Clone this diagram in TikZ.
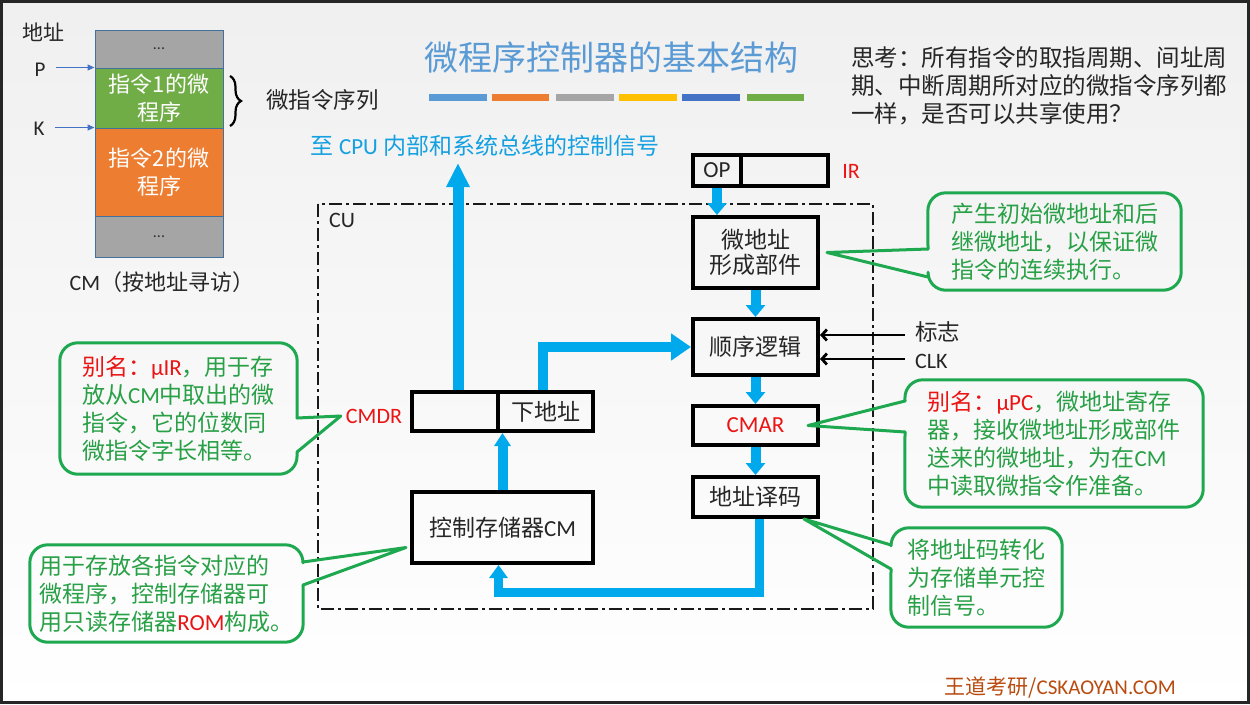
\documentclass[tikz,border=0pt]{standalone}
\usepackage{fontspec}
\setmainfont{Noto Sans CJK SC}
\newfontfamily\lat{Carlito}
\usetikzlibrary{arrows.meta,decorations.pathreplacing,calc}
\definecolor{bluearr}{RGB}{0,168,236}
\definecolor{titleblue}{RGB}{91,155,213}
\definecolor{sigblue}{RGB}{20,160,225}
\definecolor{cgreen}{RGB}{30,168,80}
\definecolor{tgreen}{RGB}{40,160,70}
\definecolor{myred}{RGB}{235,20,20}
\definecolor{cmgray}{RGB}{165,165,165}
\definecolor{cmgreen}{RGB}{112,173,71}
\definecolor{cmorange}{RGB}{237,125,49}
\definecolor{cmborder}{RGB}{65,113,156}
\definecolor{ptrblue}{RGB}{68,114,196}
\definecolor{barA}{RGB}{91,155,213}
\definecolor{barB}{RGB}{237,125,49}
\definecolor{barC}{RGB}{165,165,165}
\definecolor{barD}{RGB}{255,192,0}
\definecolor{barE}{RGB}{68,114,196}
\definecolor{barF}{RGB}{112,173,71}
\definecolor{brand}{RGB}{185,75,15}
\newcommand\fs[2]{\fontsize{#1}{#2}\selectfont}
\begin{document}
\begin{tikzpicture}[x=1pt,y=-1pt,
 box/.style={draw=black,line width=4pt,inner sep=0pt,text=black!85,align=center,font=\fs{23}{25}},
 flow/.style={draw=bluearr,line width=10pt,-{Triangle[length=12pt,width=19pt]}},
 bigflow/.style={draw=bluearr,line width=11pt,-{Triangle[length=24pt,width=22pt]}},
 sideflow/.style={draw=bluearr,line width=10pt,-{Triangle[length=20pt,width=26pt]}},
 cline/.style={draw=cgreen,line width=3pt,line join=round,line cap=round},
 ctext/.style={inner sep=0pt,text=tgreen,align=left,font=\fs{23}{28}},
 cmcell/.style={draw=cmborder,line width=1pt,minimum width=128pt,inner sep=0pt,text=white,align=center,font=\fs{22}{28}},
 sig/.style={draw=black,line width=2.8pt,-{Straight Barb[length=5pt,width=11pt]}},
 ptr/.style={draw=ptrblue,line width=1.2pt,-{Triangle[length=7pt,width=6pt]}},
 lbl/.style={inner sep=0pt,text=black!85},
]
\useasboundingbox (0,0) rectangle (1250,704);
\shade[top color=black!6,bottom color=white] (0,0) rectangle (1250,704);
\draw[line width=3pt,black!85] (1.5,1.5) rectangle (1248.5,702.5);

% ---------- CM memory sketch (top left) ----------
\node[cmcell,fill=cmgray,minimum height=38pt,text=black!80,font=\lat\fs{16}{16}] (c0) at (159,49) {...};
\node[cmcell,fill=cmgreen,minimum height=60pt] (c1) at (159,98) {指令1的微\\程序};
\node[cmcell,fill=cmorange,minimum height=88pt] (c2) at (159,172) {指令2的微\\程序};
\node[cmcell,fill=cmgray,minimum height=41pt,text=black!80,font=\lat\fs{16}{16}] (c3) at (159,236.5) {...};
\node[lbl,font=\fs{21}{21}] (addr) at (44,32) {地址};
\node[lbl,font=\lat\fs{21}{21}] (P) at (40,70) {P};
\node[lbl,font=\lat\fs{21}{21}] (K) at (39,129) {K};
\draw[ptr] ([xshift=10pt]P.east |- c1.north) -- (c1.north west);
\draw[ptr] ([xshift=10pt]K.east |- c2.north) -- (c2.north west);
\draw[line width=2.2pt,decorate,decoration={brace,amplitude=11pt}] (230,76) -- (230,126);
\node[lbl,font=\fs{22.5}{22.5},anchor=west] (seqlab) at (266,100) {微指令序列};
\node[lbl,font=\fs{22}{22}] (cmlab) at (162,282) {{\lat CM}（按地址寻访）};

% ---------- title ----------
\node[inner sep=0pt,text=titleblue,font=\fs{34}{34}] (title) at (611,58) {微程序控制器的基本结构};
\fill[barA] (429,94) rectangle (487,101);
\fill[barB] (492,94) rectangle (549,101);
\fill[barC] (556,94) rectangle (614,101);
\fill[barD] (619,94) rectangle (677,101);
\fill[barE] (682,94) rectangle (740,101);
\fill[barF] (747,94) rectangle (804,101);

\node[lbl,anchor=west,align=left,font=\fs{23.5}{28}] (think) at (851,86)
 {思考：所有指令的取指周期、间址周\\期、中断周期所对应的微指令序列都\\一样，是否可以共享使用？};

\node[inner sep=0pt,text=sigblue,font=\fs{23}{23}] (sigtext) at (485,146) {至 {\lat CPU} 内部和系统总线的控制信号};

% ---------- CU frame ----------
\draw[line width=2pt,black!90,dash pattern=on 13pt off 4pt on 3pt off 4pt] (318,204) rectangle (873,609);
\node[lbl,font=\lat\fs{22}{22}] (cu) at (342,220) {CU};

% ---------- right column ----------
\node[box,minimum width=48pt,minimum height=31pt,font=\lat\fs{23}{23}] (irop) at (717,170.5) {OP};
\node[box,minimum width=87pt,minimum height=31pt] (irrest) at (784.5,170.5) {};
\node[inner sep=0pt,text=myred,font=\lat\fs{22}{22}] (irlab) at (851,171) {IR};
\node[box,minimum width=125pt,minimum height=71pt] (mag) at (755.5,252.5) {微地址\\形成部件};
\node[box,minimum width=125pt,minimum height=56pt] (seq) at (755.5,347) {顺序逻辑};
\node[box,minimum width=125pt,minimum height=39pt,text=myred,font=\lat\fs{23}{23}] (cmar) at (755.5,425.5) {CMAR};
\node[box,minimum width=125pt,minimum height=40pt] (dec) at (755.5,497) {地址译码};

\draw[flow] (irop.south) -- (irop.south |- mag.north);
\draw[flow] (mag.south) -- (seq.north);
\draw[flow] (seq.south) -- (cmar.north);
\draw[flow] (cmar.south) -- (dec.north);

\node[lbl,anchor=west,font=\fs{22.5}{22.5}] (flag) at (915,332) {标志};
\node[lbl,anchor=west,font=\lat\fs{22}{22}] (clk) at (915,361) {CLK};
\draw[sig] ([xshift=-10pt,yshift=-3pt]flag.west) -- ([yshift=-3pt]flag.west -| seq.east);
\draw[sig] ([xshift=-10pt,yshift=2pt]clk.west) -- ([yshift=2pt]clk.west -| seq.east);

% ---------- left column ----------
\node[box,minimum width=86pt,minimum height=39pt] (cmdrL) at (455,411.5) {};
\node[box,minimum width=95pt,minimum height=39pt] (cmdrR) at (545.5,411.5) {下地址};
\node[inner sep=0pt,text=myred,font=\lat\fs{22}{22}] (cmdrlab) at (374,416) {CMDR};
\node[box,minimum width=181pt,minimum height=71pt] (cm) at (502.5,527.5) {控制存储器{\lat CM}};

\coordinate (sigtip) at (458,163);
\draw[bigflow] ([xshift=3pt]cmdrL.north) -- (sigtip);
\draw[flow,-{Triangle[length=13pt,width=16pt]}] (cm.north) -- (cm.north |- cmdrL.south);
\draw[sideflow] ([xshift=-3pt]cmdrR.north) |- (seq.west);
\draw[flow,line width=9pt,-{Triangle[length=13pt,width=18pt]}] ([xshift=4pt]dec.south) -- ++(0,73) -| ([xshift=-4pt]cm.south);

% ---------- callouts ----------
% 1: micro address forming
\node[ctext,minimum width=253pt,minimum height=97pt] (cA) at (1054.5,241.5)
 {产生初始微地址和后\\继微地址，以保证微\\指令的连续执行。};
\coordinate (cAa) at (928,249);
\coordinate (cAb) at (928,277);
\draw[cline,rounded corners=18pt] (cAa) -- (cA.north west) -- (cA.north east) -- (cA.south east) -- (cA.south west) -- (cAb);
\draw[cline] (cAa) -- ([xshift=7pt]mag.east) -- (cAb);

% 2: CMAR
\node[ctext,minimum width=298pt,minimum height=127pt] (cB) at (1054,443.5)
 {\textcolor{myred}{别名：{\lat μPC}}，微地址寄存\\器，接收微地址形成部件\\送来的微地址，为在{\lat CM}\\中读取微指令作准备。};
\coordinate (cBa) at (905,401);
\coordinate (cBb) at (905,432);
\draw[cline,rounded corners=18pt] (cBa) -- (cB.north west) -- (cB.north east) -- (cB.south east) -- (cB.south west) -- (cBb);
\draw[cline] (cBa) -- ([xshift=-12pt]cmar.east) -- (cBb);

% 3: address decode
\node[ctext,minimum width=171pt,minimum height=99pt] (cC) at (976.5,577.5)
 {将地址码转化\\为存储单元控\\制信号。};
\coordinate (cCa) at (891,545);
\coordinate (cCb) at (891,569);
\draw[cline,rounded corners=18pt] (cCa) -- (cC.north west) -- (cC.north east) -- (cC.south east) -- (cC.south west) -- (cCb);
\draw[cline] (cCa) -- ([xshift=-16pt]dec.south east) -- (cCb);

% 4: CMDR
\node[ctext,minimum width=237pt,minimum height=131pt] (cD) at (178.5,408.5)
 {\textcolor{myred}{别名：{\lat μIR}}，用于存\\放从{\lat CM}中取出的微\\指令，它的位数同\\微指令字长相等。};
\coordinate (cDa) at (297,418);
\coordinate (cDb) at (297,452);
\draw[cline,rounded corners=18pt] (cDa) -- (cD.north east) -- (cD.north west) -- (cD.south west) -- (cD.south east) -- (cDb);
\draw[cline] (cDa) -- ([xshift=-5pt]cmdrlab.west) -- (cDb);

% 5: control memory
\node[ctext,minimum width=273pt,minimum height=97pt] (cE) at (166.5,593.5)
 {用于存放各指令对应的\\微程序，控制存储器可\\用只读存储器\textcolor{myred}{\lat ROM}构成。};
\coordinate (cEa) at (303,562);
\coordinate (cEb) at (303,585);
\draw[cline,rounded corners=18pt] (cEa) -- (cE.north east) -- (cE.north west) -- (cE.south west) -- (cE.south east) -- (cEb);
\draw[cline] (cEa) -- ([xshift=-4pt,yshift=-20pt]cm.west) -- (cEb);

% ---------- brand ----------
\node[inner sep=0pt,anchor=east,text=brand,font=\fs{21}{21}] (brandtxt) at (1176,688) {王道考研/{\lat CSKAOYAN.COM}};
\end{tikzpicture}
\end{document}
